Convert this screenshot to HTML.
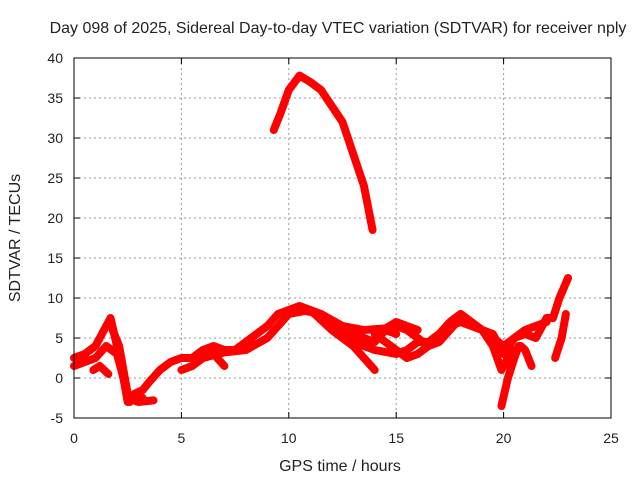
<!DOCTYPE html>
<html><head><meta charset="utf-8"><style>
body{margin:0;background:#fff}
svg text{font-family:"Liberation Sans",sans-serif;font-size:14px;fill:#222}
svg text.big{font-size:16px}
</style></head><body>
<svg id="chart" width="640" height="480" xmlns="http://www.w3.org/2000/svg">
<rect width="640" height="480" fill="#fff"/>
<text class="big" x="338" y="33" text-anchor="middle">Day 098 of 2025, Sidereal Day-to-day VTEC variation (SDTVAR) for receiver nply</text>
<text class="big" x="340" y="471" text-anchor="middle">GPS time / hours</text>
<text class="big" transform="translate(20,238) rotate(-90)" text-anchor="middle">SDTVAR / TECUs</text>
<g id="grid"></g>
<g id="marks"></g>
<rect x="74" y="58" width="537" height="360" fill="none" stroke="#000" stroke-width="1"/>
<g id="ticks"></g>
</svg>
<script>
const xTicks=[0,5,10,15,20,25];
const yTicks=[-5,0,5,10,15,20,25,30,35,40];
const s1=[[9.3,31],[9.6,33],[10,36],[10.5,37.8],[11,37],[11.5,36],[12,34],[12.5,32],[13,28],[13.5,24],[13.9,18.5]];
const s2=[[0,2.5],[0.5,3],[1,4],[1.5,6.5],[1.7,7.5],[2,4],[2.3,0],[2.5,-3],[2.8,-2.5],[3.2,-2.5]];
const s3=[[0,1.5],[0.5,2],[1,2.5],[1.5,4],[2,3],[2.4,-1],[2.6,-3]];
const s3b=[[1.8,6],[2.1,4],[2.3,1],[2.5,-2]];
const s4=[[0.9,1],[1.2,1.5],[1.6,0.5]];
const s5=[[2.8,-2],[3.2,-1.5],[3.5,-0.5],[4,1],[4.5,2],[5,2.5],[5.5,2.5],[6,3.5],[6.5,4],[7,3.5],[7.5,3.5],[8,4.5],[8.5,5.5],[9,6.5],[9.5,8],[10,8.5],[10.5,9],[11,8.5],[11.5,8],[12,7],[12.5,6],[13,5.5],[13.5,5],[14,4.5],[14.5,6],[15,5.5]];
const s6=[[2.5,-2.5],[3,-3],[3.7,-2.8]];
const s7=[[5,1],[5.5,1.5],[6,2.5],[6.5,3],[7,1.5]];
const s8=[[6,2.5],[7,3.2],[8,3.5],[9,5],[10,8],[11,8.5],[12,6],[12.5,5],[13,4],[13.5,2.5],[14,1]];
const s9=[[10.5,8.5],[11.5,8],[12.5,6.5],[13.5,6],[14.5,6.2],[15,7],[16,6]];
const s10=[[12,6],[13,4.5],[14,3.5],[15,3],[15.5,3.5],[16,4.5],[16.5,4.5],[17,5.5],[17.5,7],[18,8],[18.5,7],[19,6],[19.5,5.5],[20,3],[20.5,5],[21,5.5],[21.5,5],[22,7.5],[22.3,7.5],[22.6,10],[23,12.5]];
const s11=[[14,5.5],[15,3.5],[15.5,2.5],[16,3],[16.5,4],[17,5],[17.5,6.5],[18,7],[18.5,6.5],[19,6],[19.5,4],[19.9,1],[20.3,3],[20.8,4],[21,3.5],[21.3,1.5]];
const s12=[[19.9,-3.5],[20.2,0],[20.5,2.5],[20.7,4]];
const s13=[[22.4,2.5],[22.7,5],[22.9,8]];
const s14=[[15,6.5],[15.5,6],[16,5],[16.5,4],[17,4.5],[18,7.5],[19,6],[19.5,5],[20,4],[20.5,5],[21,6],[21.5,6.5],[22,7]];
const series=[s1,s2,s3,s3b,s4,s5,s6,s7,s8,s9,s10,s11,s12,s13,s14];
const X=h=>74+h*537/25, Y=v=>58+(40-v)*8;
const NS="http://www.w3.org/2000/svg";
const grid=document.getElementById('grid'),ticks=document.getElementById('ticks'),marks=document.getElementById('marks');
function mk(tag,attrs,parent){const e=document.createElementNS(NS,tag);for(const k in attrs)e.setAttribute(k,attrs[k]);parent.appendChild(e);return e;}
xTicks.forEach(t=>{const x=X(t);
 if(t>0&&t<25){const g=mk('line',{x1:x,x2:x,y1:58,y2:418,stroke:'#999','stroke-dasharray':'2,3'},grid);
 }
 mk('line',{x1:x,x2:x,y1:418,y2:412,stroke:'#000'},ticks);mk('line',{x1:x,x2:x,y1:58,y2:64,stroke:'#000'},ticks);
 const l=mk('text',{x:x,y:443,'text-anchor':'middle'},ticks);l.textContent=t;
 });
yTicks.forEach(t=>{const y=Y(t);
 if(t>-5&&t<40){const g=mk('line',{x1:74,x2:611,y1:y,y2:y,stroke:'#999','stroke-dasharray':'2,3'},grid);
 }
 mk('line',{x1:74,x2:80,y1:y,y2:y,stroke:'#000'},ticks);mk('line',{x1:605,x2:611,y1:y,y2:y,stroke:'#000'},ticks);
 const l=mk('text',{x:63,y:y+5,'text-anchor':'end'},ticks);l.textContent=t;
 });
series.forEach(s=>{const p=mk('polyline',{points:s.map(d=>X(d[0])+','+Y(d[1])).join(' '),fill:'none',stroke:'#f00','stroke-width':8,'stroke-linejoin':'round','stroke-linecap':'round'},marks);
 });
</script>
</body></html>
